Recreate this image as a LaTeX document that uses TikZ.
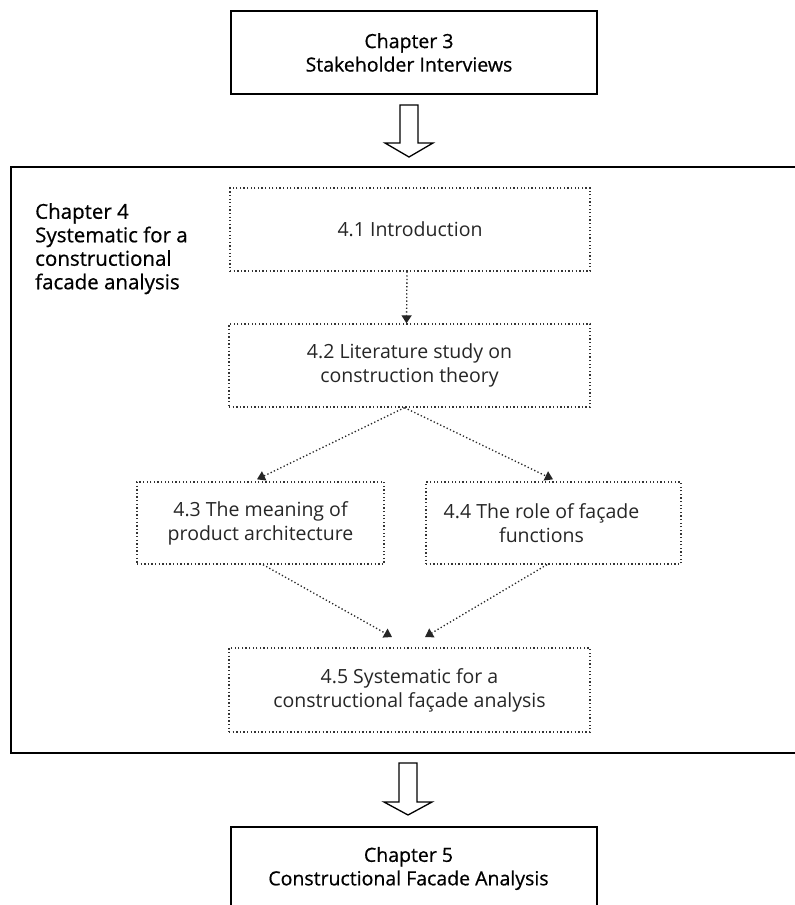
\documentclass[tikz,border=0pt]{standalone}
\usepackage{fontspec}
\setmainfont{Open Sans}
\newfontfamily\chapfont{Open Sans}[FakeBold=0.6]
\usetikzlibrary{arrows.meta}
\begin{document}
\begin{tikzpicture}[x=1pt,y=-1pt,
  chap/.style={draw, line width=1.5pt, minimum width=366pt, minimum height=83pt, align=center, font=\chapfont\fontsize{19.5}{23.5}\selectfont, inner sep=0pt},
  dotbox/.style={draw=black!80, line width=1.3pt, dash pattern=on 1.3pt off 2.3pt, align=center, text=black!85, font=\fontsize{19.5}{24}\selectfont, inner sep=0pt},
  dotarrow/.style={draw=black!85, line width=1.3pt, dash pattern=on 1.3pt off 2.3pt, -{Triangle[width=10pt,length=8pt]}},
  hollow/.style={draw, line width=1.3pt, fill=white, line join=miter}
]
\clip (0,0) rectangle (795,905);
\fill[white] (0,0) rectangle (795,905);
\node[chap] (ch3) at (414,52.5) {\hspace*{-10pt}Chapter 3\\\hspace*{-10pt}Stakeholder Interviews};
\node[draw, line width=1.5pt, minimum width=794pt, minimum height=586pt, inner sep=0pt] (frame) at (408,460) {};
\node[anchor=north west, align=left, font=\chapfont\fontsize{20.5}{23.5}\selectfont, inner sep=0pt] (lbl) at (35,203) {Chapter 4\\Systematic for a\\constructional\\facade analysis};
\node[dotbox, minimum width=360pt, minimum height=83pt] (n41) at (410,229.5) {4.1 Introduction};
\node[dotbox, minimum width=361pt, minimum height=83pt] (n42) at (409.5,365.5) {4.2 Literature study on\\construction theory};
\node[dotbox, minimum width=247pt, minimum height=82pt] (n43) at (260.5,523) {4.3 The meaning of\\product architecture};
\node[dotbox, minimum width=255pt, minimum height=82pt] (n44) at (553.5,523) {\hspace*{-24pt}4.4 The role of façade\\\hspace*{-24pt}functions};
\node[dotbox, minimum width=361pt, minimum height=84pt] (n45) at (409.5,690) {4.5 Systematic for a\\constructional façade analysis};
\node[chap] (ch5) at (414,868.5) {\hspace*{-11pt}Chapter 5\\\hspace*{-11pt}Constructional Facade Analysis};
\coordinate (t1) at (392,637);
\coordinate (t2) at (425,637);
\draw[dotarrow] ([xshift=-3pt]n41.south) -- ([xshift=-3pt]n42.north);
\draw[dotarrow] ([xshift=-5pt]n42.south) -- ([xshift=-3.5pt,yshift=2pt]n43.north);
\draw[dotarrow] ([xshift=-5pt]n42.south) -- ([xshift=-0.5pt,yshift=2pt]n44.north);
\draw[dotarrow] ([xshift=2.5pt]n43.south) -- (t1);
\draw[dotarrow] ([xshift=-6.5pt]n44.south) -- (t2);
\coordinate (a1) at (409,105);
\coordinate (a2) at (408,763);
\draw[hollow] (a1) ++(-9,0) -- ++(18,0) -- ++(0,38) -- ++(15,0) -- ++(-24,14) -- ++(-24,-14) -- ++(15,0) -- cycle;
\draw[hollow] (a2) ++(-9,0) -- ++(18,0) -- ++(0,39) -- ++(15,0) -- ++(-24,13) -- ++(-24,-13) -- ++(15,0) -- cycle;
\end{tikzpicture}
\end{document}
